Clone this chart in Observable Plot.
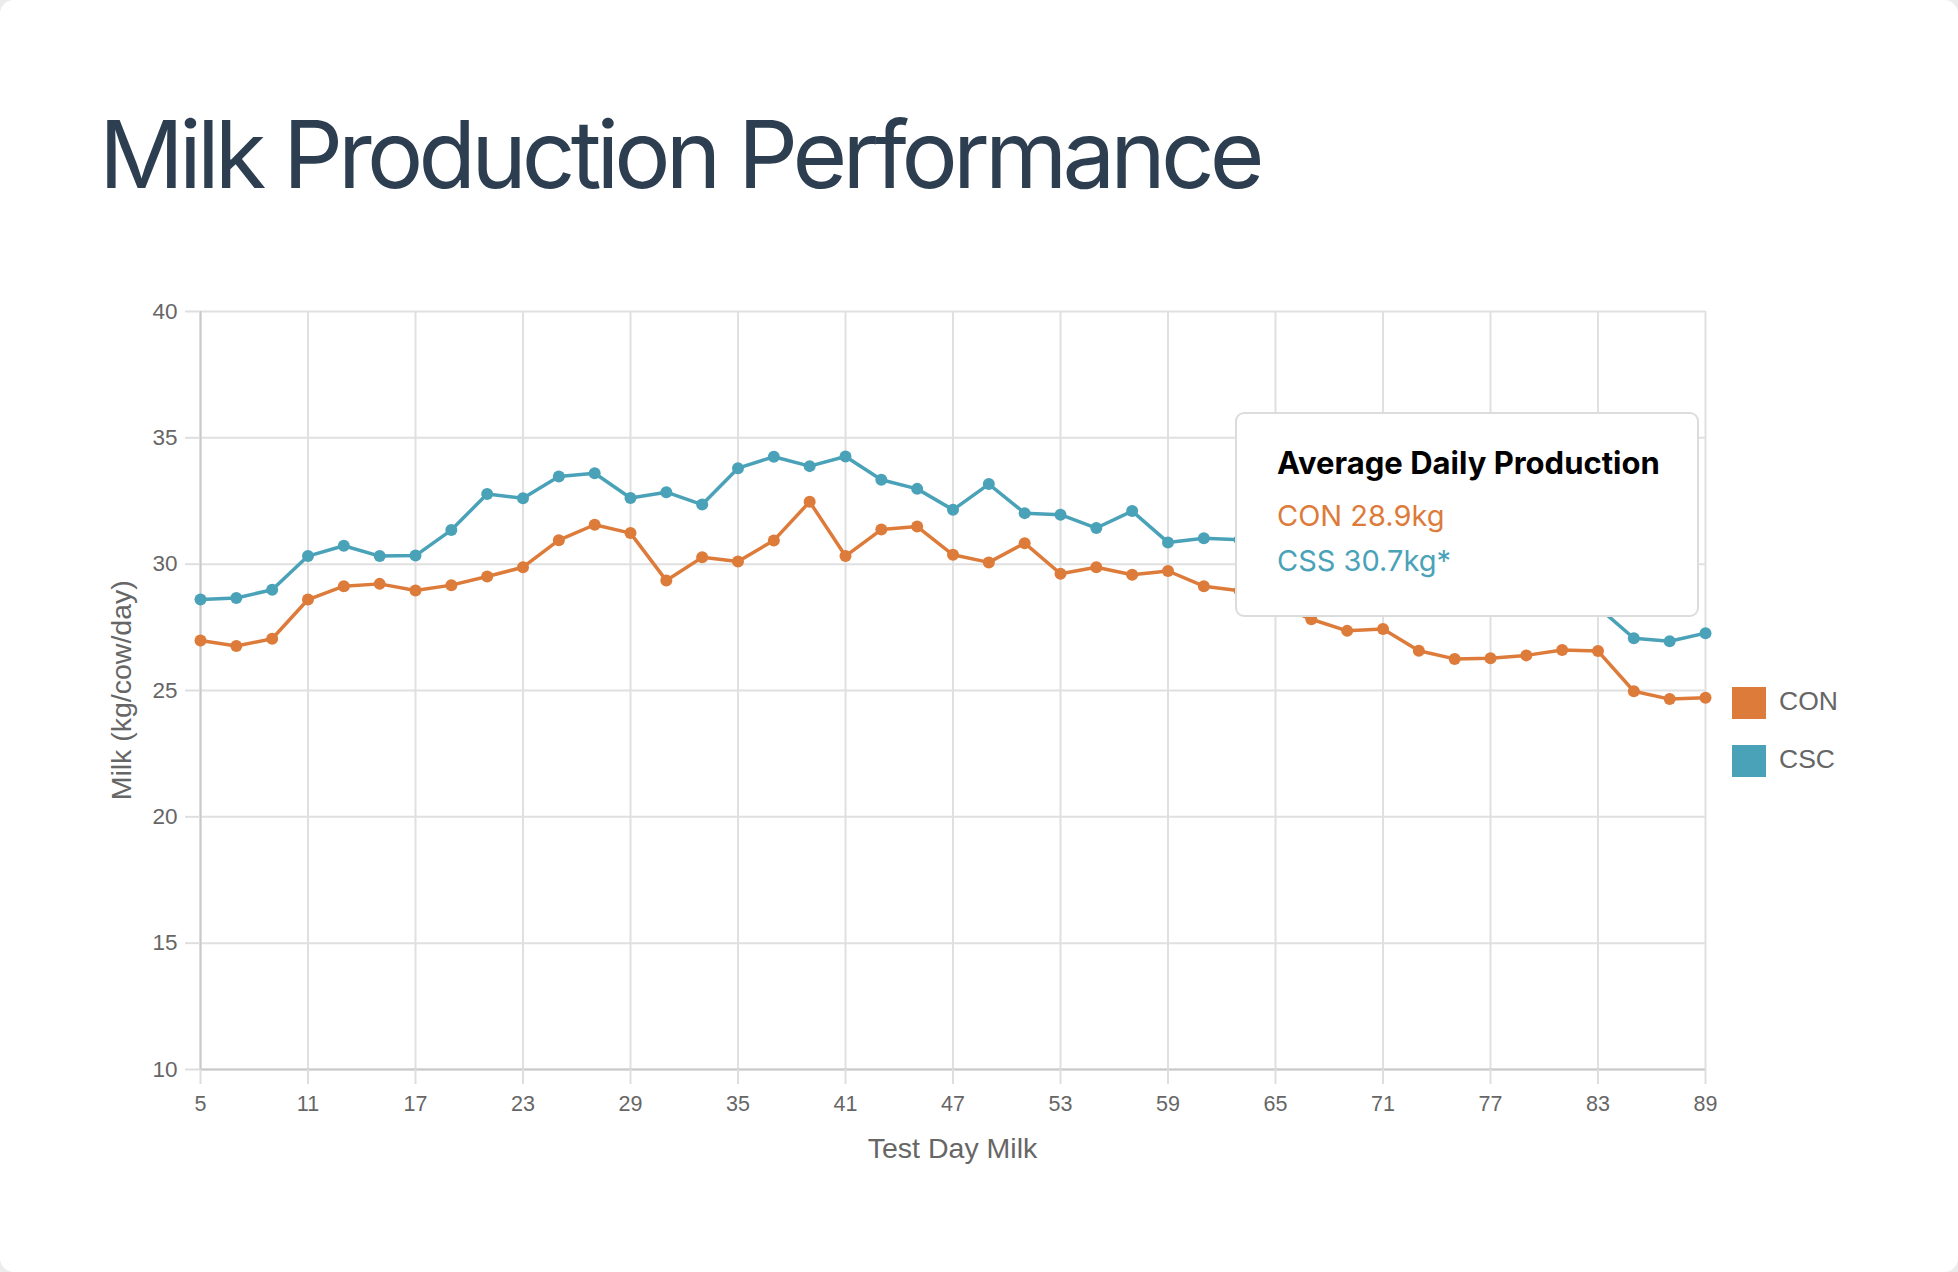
<!DOCTYPE html>
<html>
<head>
<meta charset="utf-8">
<script src="https://cdn.jsdelivr.net/npm/d3@7"></script>
<script src="https://cdn.jsdelivr.net/npm/@observablehq/plot@0.6"></script>
<style>
  html, body { margin: 0; padding: 0; background: #ececec; }
  #card { position: relative; width: 1958px; height: 1272px; background: #fff; border-radius: 14px; overflow: hidden; }
  #title { position: absolute; left: 99px; top: 0; font-family: Inter, "Noto Sans", sans-serif; font-weight: 400; font-size: 94px; letter-spacing: -4.9px; color: #2c3e50; line-height: 1; white-space: nowrap; }
  #chart { position: absolute; left: 0; top: 0; }
  .axt { position: absolute; font-family: "Liberation Sans", Arial, sans-serif; font-size: 28.5px; color: #666; white-space: nowrap; line-height: 1; }
  #tip { position: absolute; left: 1235px; top: 412px; width: 460px; height: 201px; border: 2px solid #dcdcdc; border-radius: 9px; background: #fff; box-sizing: content-box; }
  #tip div { position: absolute; left: 40px; font-family: Inter, "Noto Sans", sans-serif; white-space: nowrap; line-height: 1; }
  .leg { position: absolute; font-family: "Liberation Sans", Arial, sans-serif; font-size: 26.5px; color: #666; line-height: 1; white-space: nowrap; }
  .sw { position: absolute; width: 34px; height: 32px; }
</style>
</head>
<body>
<div id="card">
  <div id="title"></div>
  <div id="chart"></div>
  <div class="axt" id="xt"></div>
  <div class="axt" id="yt"></div>
  <div id="tip">
    <div id="tipTitle" style="font-weight:700;font-size:31px;color:#000;"></div>
    <div id="tipCon" style="font-size:29px;"></div>
    <div id="tipCss" style="font-size:29px;"></div>
  </div>
  <div class="sw" id="sw0"></div><div class="leg" id="lg0"></div>
  <div class="sw" id="sw1"></div><div class="leg" id="lg1"></div>
</div>
<script>
// ---- data ----
const days = [5,7,9,11,13,15,17,19,21,23,25,27,29,31,33,35,37,39,41,43,45,47,49,51,53,55,57,59,61,63,65,67,69,71,73,75,77,79,81,83,85,87,89];
const conValues = [26.98,26.76,27.05,28.60,29.13,29.22,28.96,29.17,29.51,29.88,30.95,31.56,31.23,29.35,30.27,30.11,30.94,32.47,30.32,31.37,31.49,30.37,30.07,30.83,29.62,29.88,29.58,29.73,29.13,28.95,28.40,27.82,27.36,27.43,26.57,26.25,26.28,26.39,26.60,26.56,24.97,24.66,24.71];
const cscValues = [28.60,28.66,28.99,30.32,30.73,30.32,30.34,31.35,32.78,32.61,33.47,33.60,32.62,32.85,32.36,33.80,34.25,33.88,34.26,33.34,32.98,32.15,33.17,32.02,31.96,31.43,32.10,30.86,31.03,30.97,30.60,30.20,29.80,29.90,29.30,29.00,28.90,28.90,28.80,28.30,27.07,26.95,27.27];
const seriesNames = ["CON", "CSC"];
const seriesColors = ["#dd7b3a", "#4aa2b8"];
const xTicks = [5,11,17,23,29,35,41,47,53,59,65,71,77,83,89];
const yTicks = [10,15,20,25,30,35,40];
const titleText = "Milk Production Performance";
const xLabel = "Test Day Milk";
const yLabel = "Milk (kg/cow/day)";
const tipTitle = "Average Daily Production";
const tipLines = ["CON 28.9kg", "CSS 30.7kg*"];

const rows = [];
days.forEach((d, i) => {
  rows.push({day: d, value: conValues[i], series: seriesNames[0]});
  rows.push({day: d, value: cscValues[i], series: seriesNames[1]});
});

const W = 1958, H = 1272;
const chart = Plot.plot({
  width: W, height: H,
  marginLeft: 200, marginRight: 253, marginTop: 311, marginBottom: 203,
  style: {fontFamily: "'Liberation Sans', Arial, sans-serif", background: "transparent", color: "#666"},
  x: {domain: [5, 89]},
  y: {domain: [10, 40]},
  color: {domain: seriesNames, range: seriesColors},
  marks: [
    Plot.gridX(xTicks, {stroke: "#e0e0e0", strokeOpacity: 1, strokeWidth: 2}),
    Plot.gridY(yTicks, {stroke: "#e0e0e0", strokeOpacity: 1, strokeWidth: 2}),
    Plot.ruleX([5], {stroke: "#c9c9c9", strokeWidth: 2}),
    Plot.ruleY([10], {stroke: "#c9c9c9", strokeWidth: 2}),
    Plot.axisX(xTicks, {tickSize: 15, tickPadding: 11, stroke: "#dedede", strokeWidth: 2, fill: "#666", fontSize: 21.5, label: null, tickFormat: d => String(d)}),
    Plot.axisY(yTicks, {tickSize: 15, tickPadding: 8, stroke: "#dedede", strokeWidth: 2, fill: "#666", fontSize: 22.5, label: null, tickFormat: d => String(d)}),
    Plot.line(rows, {x: "day", y: "value", z: "series", stroke: "series", strokeWidth: 3.5}),
    Plot.dot(rows, {x: "day", y: "value", fill: "series", r: 6})
  ]
});
document.getElementById("chart").appendChild(chart);

// title
const t = document.getElementById("title");
t.textContent = titleText;
t.style.top = (194 - 94 * 0.93) + "px";

// axis titles
const xt = document.getElementById("xt");
xt.textContent = xLabel;
xt.style.left = "0px"; xt.style.top = "1134px";
const xw = xt.getBoundingClientRect().width;
xt.style.left = (952.5 - xw / 2) + "px";

const yt = document.getElementById("yt");
yt.textContent = yLabel;
const yw = yt.getBoundingClientRect().width;
const yh = yt.getBoundingClientRect().height;
yt.style.left = (121 - yw / 2) + "px";
yt.style.top = (690 - yh / 2) + "px";
yt.style.transform = "rotate(-90deg)";

// tooltip
const tt = document.getElementById("tipTitle");
tt.textContent = tipTitle;
tt.style.top = (476 - 414 - 31 * 0.93) + "px";
const tc = document.getElementById("tipCon");
tc.textContent = tipLines[0]; tc.style.color = seriesColors[0];
tc.style.top = (528 - 414 - 29 * 0.93) + "px";
const ts = document.getElementById("tipCss");
ts.textContent = tipLines[1]; ts.style.color = seriesColors[1];
ts.style.top = (573 - 414 - 29 * 0.93) + "px";

// legend
seriesNames.forEach((s, i) => {
  const sw = document.getElementById("sw" + i);
  sw.style.left = "1732px"; sw.style.top = (687 + i * 58) + "px"; sw.style.background = seriesColors[i];
  const lg = document.getElementById("lg" + i);
  lg.textContent = s;
  lg.style.left = "1779px"; lg.style.top = (712 + i * 58 - 26.5 * 0.9) + "px";
});
</script>
</body>
</html>
